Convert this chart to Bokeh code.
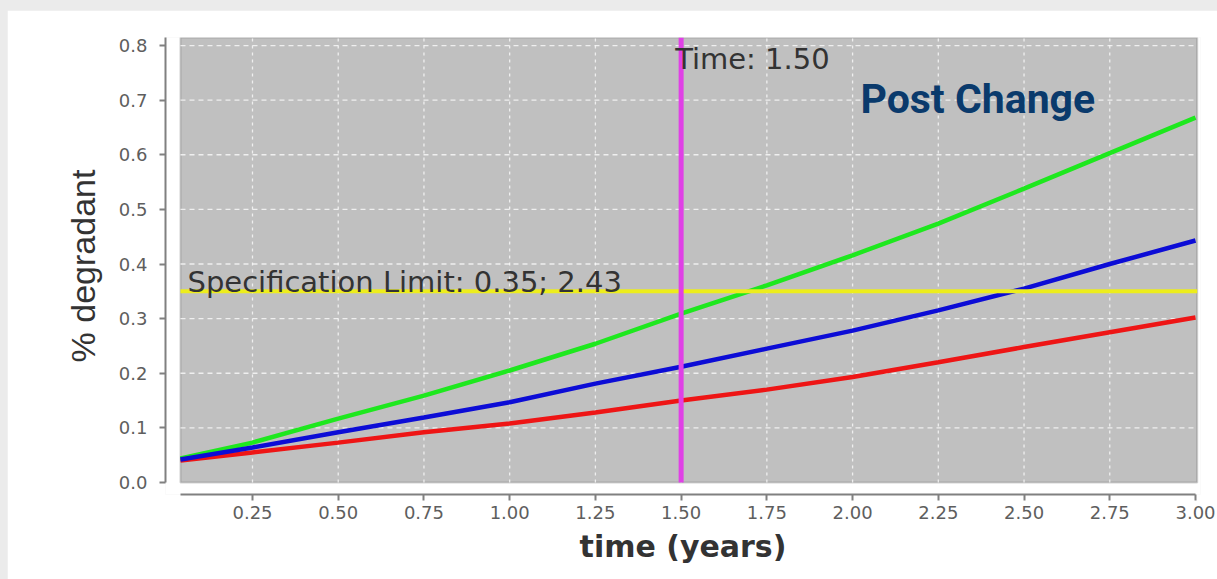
from bokeh.plotting import figure
from bokeh.models import Range1d, BoxAnnotation, Label, FixedTicker, NumeralTickFormatter, Spacer
from bokeh.layouts import column, row
from bokeh.embed import file_html
from bokeh.resources import INLINE

# Degradant level over time for three storage conditions
TIME = [0.04, 0.25, 0.50, 0.75, 1.00, 1.25, 1.50, 1.75, 2.00, 2.25, 2.50, 2.75, 3.00]
UPPER = [0.044, 0.073, 0.117, 0.159, 0.205, 0.254, 0.309, 0.361, 0.416, 0.474, 0.538, 0.603, 0.668]
MIDDLE = [0.042, 0.064, 0.092, 0.119, 0.147, 0.181, 0.212, 0.245, 0.278, 0.315, 0.355, 0.400, 0.443]
LOWER = [0.040, 0.055, 0.073, 0.092, 0.108, 0.128, 0.150, 0.170, 0.193, 0.220, 0.248, 0.275, 0.302]

SPEC_LIMIT = 0.35
SPEC_TIME = 2.43
CURSOR_TIME = 1.50

X_TICKS = [0.25, 0.50, 0.75, 1.00, 1.25, 1.50, 1.75, 2.00, 2.25, 2.50, 2.75, 3.00]
Y_TICKS = [0.0, 0.1, 0.2, 0.3, 0.4, 0.5, 0.6, 0.7, 0.8]

T_START, T_END = TIME[0], TIME[-1]
X0, X1 = -0.0037, 3.0146
Y0, Y1 = -0.022, 0.8147
BOX_RIGHT = 3.005

p = figure(width=1210, height=569,
           x_range=Range1d(X0, X1), y_range=Range1d(Y0, Y1),
           output_backend="svg", toolbar_location=None,
           min_border_left=158, min_border_right=17,
           min_border_top=27, min_border_bottom=85,
           background_fill_color="white", border_fill_color="white")
p.outline_line_color = None
p.grid.visible = False

# grey plotting area with its dark frame
p.add_layout(BoxAnnotation(left=T_START, right=BOX_RIGHT, bottom=0, top=Y1,
                           fill_color="#c0c0c0", fill_alpha=1.0,
                           line_color="#6b6b6b", line_width=2, level="underlay"))

# dashed white grid inside the area only
grid_x = X_TICKS[:-1]
p.segment(x0=grid_x, y0=[0] * len(grid_x), x1=grid_x, y1=[Y1] * len(grid_x),
          line_color="white", line_width=1.3, line_dash="3 4", line_alpha=0.75)
grid_y = Y_TICKS[1:]
p.segment(x0=[T_START] * len(grid_y), y0=grid_y, x1=[BOX_RIGHT] * len(grid_y), y1=grid_y,
          line_color="white", line_width=1.3, line_dash="5 4", line_alpha=0.75)

# degradation curves
p.line(TIME, LOWER, line_color="#ee1515", line_width=4.5)
p.line(TIME, UPPER, line_color="#1ee81e", line_width=4.5)
p.line(TIME, MIDDLE, line_color="#0c0cd6", line_width=4.5)

# specification limit and time cursor
p.line([T_START, BOX_RIGHT], [SPEC_LIMIT, SPEC_LIMIT], line_color="#eded1c", line_width=4)
p.line([CURSOR_TIME, CURSOR_TIME], [0, Y1], line_color="#e040e6", line_width=5)

p.add_layout(Label(x=0.0604, y=SPEC_LIMIT, y_offset=9,
                   text=f"Specification Limit: {SPEC_LIMIT:.2f}; {SPEC_TIME:.2f}",
                   text_font="DejaVu Sans", text_font_size="29px", text_color="#333333",
                   text_baseline="alphabetic"))
p.add_layout(Label(x=1.4825, y=0.756, y_offset=11,
                   text=f"Time: {CURSOR_TIME:.2f}",
                   text_font="DejaVu Sans", text_font_size="29px", text_color="#333333",
                   text_baseline="alphabetic"))
p.add_layout(Label(x=2.023, y=0.681, y_offset=12, text="Post Change",
                   text_font="Roboto", text_font_style="bold", text_font_size="41px",
                   text_color="#0a3a6c", text_baseline="alphabetic"))

# axes
for ax in (p.xaxis[0], p.yaxis[0]):
    ax.axis_line_color = "#808080"
    ax.axis_line_width = 2
    ax.major_tick_line_color = "#808080"
    ax.major_tick_line_width = 2
    ax.major_tick_out = 6
    ax.major_tick_in = 0
    ax.minor_tick_line_color = None
    ax.major_label_text_font = "DejaVu Sans"
    ax.major_label_text_font_size = "18px"
    ax.major_label_text_color = "#5e5e5e"
    ax.axis_label_text_color = "#333333"

p.xaxis.ticker = FixedTicker(ticks=X_TICKS)
p.xaxis.formatter = NumeralTickFormatter(format="0.00")
p.xaxis.bounds = (T_START, T_END)
p.xaxis.major_label_standoff = 5
p.xaxis.axis_label = "time (years)"
p.xaxis.axis_label_text_font = "DejaVu Sans"
p.xaxis.axis_label_text_font_style = "bold"
p.xaxis.axis_label_text_font_size = "30px"
p.xaxis.axis_label_standoff = 7

p.yaxis.ticker = FixedTicker(ticks=Y_TICKS)
p.yaxis.formatter = NumeralTickFormatter(format="0.0")
p.yaxis.bounds = (0, Y1)
p.yaxis.major_label_standoff = 12
p.yaxis.axis_label = "% degradant"
p.yaxis.axis_label_text_font = "Liberation Sans"
p.yaxis.axis_label_text_font_style = "normal"
p.yaxis.axis_label_text_font_size = "34px"
p.yaxis.axis_label_standoff = 14

band = {"background-color": "#ebebeb"}
layout = column(Spacer(width=1217, height=10, styles=band),
                row(Spacer(width=7, height=569, styles=band), p),
                styles=band)

open("out.html", "w").write(file_html(layout, INLINE))
